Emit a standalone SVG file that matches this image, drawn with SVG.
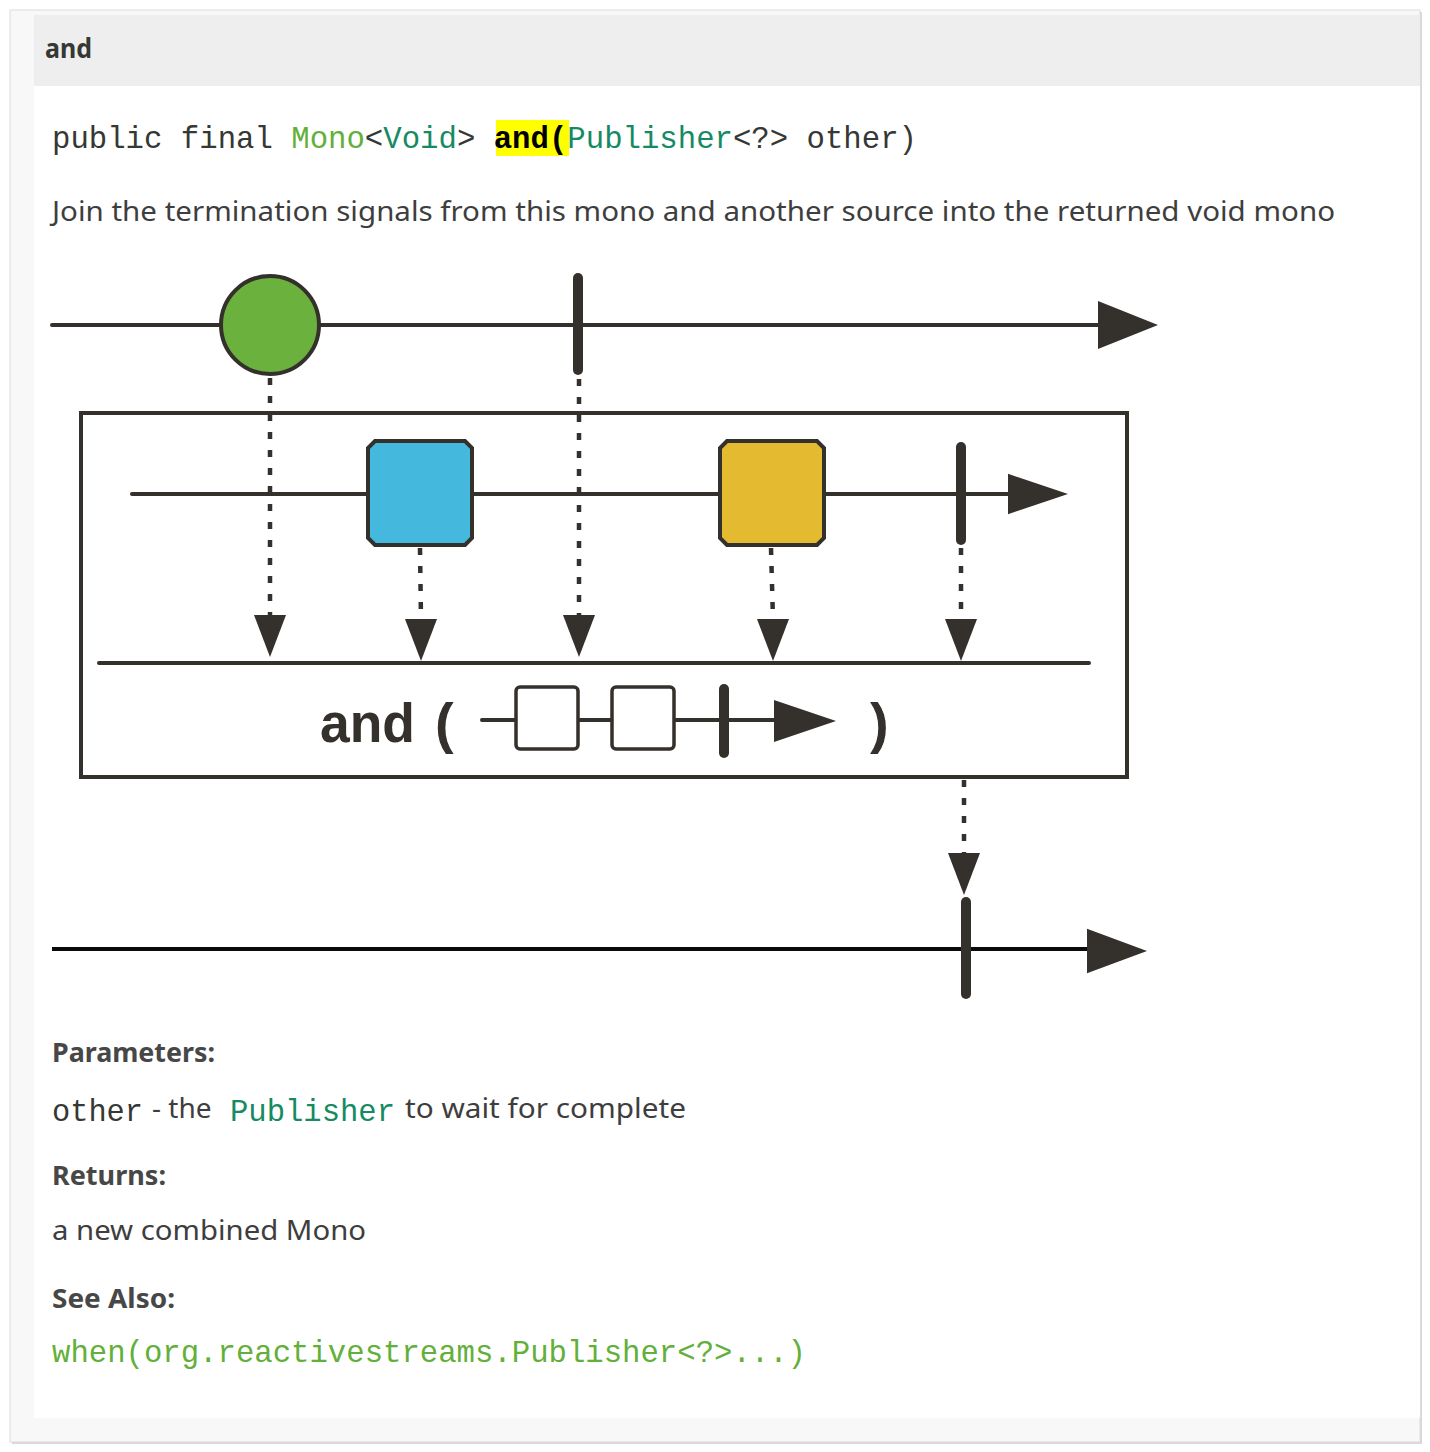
<svg xmlns="http://www.w3.org/2000/svg" width="1430" height="1452" viewBox="0 0 1430 1452">
<style>
.ln{stroke:#34302b;stroke-width:4;fill:none;stroke-linecap:round}
.dot{stroke:#34302b;stroke-width:4.5;fill:none;stroke-dasharray:7 11}
.bar{stroke:#34302b;stroke-width:10;stroke-linecap:round}
.hd{fill:#34302b}
.body{font-family:"Noto Sans","Open Sans","Liberation Sans",sans-serif;fill:#3e3e3e}
.bold{font-family:"Noto Sans","Open Sans","Liberation Sans",sans-serif;font-weight:bold;fill:#474747}
.mono{font-family:"Liberation Mono","Courier New",monospace;fill:#353833}
.teal{fill:#168a63}
.lgreen{fill:#62b03a}
</style>
<defs>
<path id="down" d="M-16,0 L16,0 L0,42 Z"/>
<path id="right" d="M0,-24 L60,0 L0,24 Z"/>
</defs>
<rect x="0" y="0" width="1430" height="1452" fill="#ffffff"/>
<rect x="12" y="12" width="1410" height="1432" fill="#d8d8d8"/>
<rect x="10" y="10" width="1410" height="1432" fill="#f8f8f8" stroke="#dcdcdc" stroke-width="1"/>
<rect x="34" y="15" width="1386" height="71" fill="#eeeeee"/>
<rect x="34" y="86" width="1386" height="1332" fill="#ffffff"/>

<g id="header"><text x="45" y="58" class="bold" font-size="26" style="fill:#353833" textLength="47" lengthAdjust="spacingAndGlyphs">and</text></g>

<g id="signature">
<rect x="496" y="120" width="73" height="36" fill="#ffff00"/>
<text x="52" y="148" class="mono" font-size="30.5" textLength="865" lengthAdjust="spacingAndGlyphs">public final <tspan class="lgreen">Mono</tspan>&lt;<tspan class="teal">Void</tspan>&gt; <tspan font-weight="bold" fill="#000">and(</tspan><tspan class="teal">Publisher</tspan>&lt;?&gt; other)</text>
</g>

<g id="description"><text x="52" y="221" class="body" font-size="28" textLength="1283" lengthAdjust="spacingAndGlyphs">Join the termination signals from this mono and another source into the returned void mono</text></g>

<g id="connectors">
<line class="ln" x1="52" y1="325" x2="1100" y2="325"/>
<use href="#right" transform="translate(1098,325)" class="hd"/>
<line class="ln" x1="132" y1="494" x2="1010" y2="494"/>
<use href="#right" transform="translate(1008,494) scale(1,0.84)" class="hd"/>
<line class="ln" x1="99" y1="663" x2="1089" y2="663"/>
<line x1="52" y1="949" x2="1090" y2="949" stroke="#0a0a0a" stroke-width="4"/>
<use href="#right" transform="translate(1087,951) scale(1,0.93)" class="hd"/>

<line class="dot" x1="270" y1="378" x2="270" y2="616"/>
<use href="#down" transform="translate(270,615)" class="hd"/>
<line class="dot" x1="420" y1="548" x2="421" y2="620"/>
<use href="#down" transform="translate(421,619)" class="hd"/>
<line class="dot" x1="579" y1="379" x2="579" y2="616"/>
<use href="#down" transform="translate(579,615)" class="hd"/>
<line class="dot" x1="771" y1="548" x2="773" y2="620"/>
<use href="#down" transform="translate(773,619)" class="hd"/>
<line class="dot" x1="961" y1="548" x2="961" y2="620"/>
<use href="#down" transform="translate(961,619)" class="hd"/>
<line class="dot" x1="964" y1="780" x2="964" y2="854"/>
<use href="#down" transform="translate(964,853)" class="hd"/>
</g>

<g id="source-mono">
<circle cx="270" cy="325" r="49" fill="#6ab23d" stroke="#34302b" stroke-width="4"/>
<line class="bar" x1="578" y1="278" x2="578" y2="370"/>
</g>

<g id="operator-box">
<rect x="81" y="413" width="1046" height="364" fill="none" stroke="#34302b" stroke-width="4"/>
</g>

<g id="other-publisher">
<path d="M375,441 L465,441 L472,448 L472,538 L465,545 L375,545 L368,538 L368,448 Z" fill="#44b8dd" stroke="#34302b" stroke-width="4"/>
<path d="M727,441 L817,441 L824,448 L824,538 L817,545 L727,545 L720,538 L720,448 Z" fill="#e4ba31" stroke="#34302b" stroke-width="4"/>
<line class="bar" x1="961" y1="447" x2="961" y2="540"/>
</g>

<g id="operator-label">
<text x="320" y="742" font-family="'Liberation Sans',Arial,sans-serif" font-weight="bold" font-size="56" fill="#34302b" textLength="95" lengthAdjust="spacingAndGlyphs">and</text>
<text x="435" y="742" font-family="'Liberation Sans',Arial,sans-serif" font-weight="bold" font-size="56" fill="#34302b">(</text>
<text x="870" y="742" font-family="'Liberation Sans',Arial,sans-serif" font-weight="bold" font-size="56" fill="#34302b">)</text>
<line class="ln" x1="482" y1="720" x2="776" y2="720" stroke-width="3.5"/>
<rect x="516" y="687" width="62" height="62" rx="4" fill="#fff" stroke="#34302b" stroke-width="3.5"/>
<rect x="612" y="687" width="62" height="62" rx="4" fill="#fff" stroke="#34302b" stroke-width="3.5"/>
<line class="bar" x1="724" y1="689" x2="724" y2="753" stroke-width="8"/>
<path d="M774,700 L836,721 L774,742 Z" class="hd"/>
</g>

<g id="result-mono">
<line class="bar" x1="966" y1="902" x2="966" y2="994" stroke-width="9"/>
</g>

<g id="details">
<text x="52" y="1062" class="bold" font-size="26" textLength="163" lengthAdjust="spacingAndGlyphs">Parameters:</text>
<text x="52" y="1121" class="mono" font-size="30.5" textLength="91" lengthAdjust="spacingAndGlyphs">other</text>
<text x="152" y="1118" class="body" font-size="28">- the</text>
<text x="230" y="1121" class="mono teal" font-size="30.5" textLength="165" lengthAdjust="spacingAndGlyphs">Publisher</text>
<text x="405" y="1118" class="body" font-size="28" textLength="281" lengthAdjust="spacingAndGlyphs">to wait for complete</text>
<text x="52" y="1185" class="bold" font-size="26" textLength="114" lengthAdjust="spacingAndGlyphs">Returns:</text>
<text x="52" y="1240" class="body" font-size="28" textLength="314" lengthAdjust="spacingAndGlyphs">a new combined Mono</text>
<text x="52" y="1308" class="bold" font-size="26" textLength="123" lengthAdjust="spacingAndGlyphs">See Also:</text>
<text x="52" y="1362" class="mono lgreen" font-size="30.5" textLength="754" lengthAdjust="spacingAndGlyphs">when(org.reactivestreams.Publisher&lt;?&gt;...)</text>
</g>
</svg>
